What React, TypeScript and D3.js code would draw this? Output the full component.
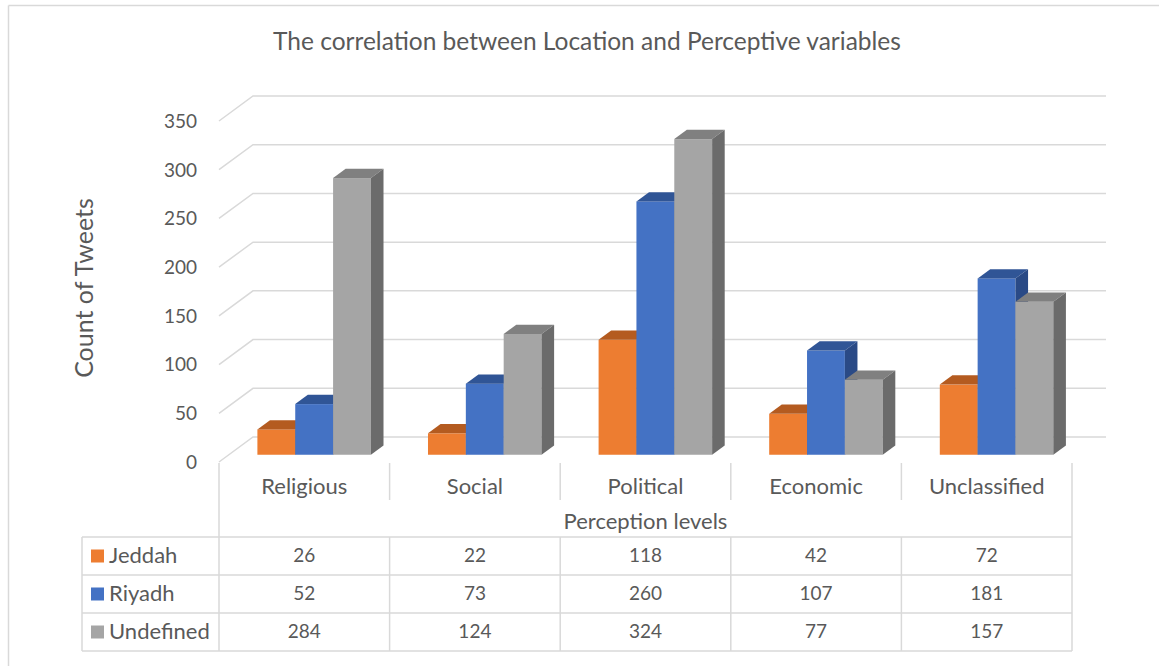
import React from "react";
import * as d3 from "d3";

const categories = ["Religious", "Social", "Political", "Economic", "Unclassified"];
const seriesNames = ["Jeddah", "Riyadh", "Undefined"];
const jeddah = [26, 22, 118, 42, 72];
const riyadh = [52, 73, 260, 107, 181];
const undefinedCounts = [284, 124, 324, 77, 157];
const yTicks = [0, 50, 100, 150, 200, 250, 300, 350];

const seriesValues = [jeddah, riyadh, undefinedCounts];

// front, top, side shades for each series
const palette = [
  { front: "#ED7D31", top: "#B45B20", side: "#A3521D" },
  { front: "#4472C4", top: "#305596", side: "#2A4A86" },
  { front: "#A5A5A5", top: "#808080", side: "#6B6B6B" },
];

const W = 1159;
const H = 666;
const FONT = "Lato, 'Open Sans', sans-serif";
const TXT = "#595959";
const GRID = "#d9d9d9";
const NUM = 19; // digits
const WORD = 22; // words

// oblique 3d: full depth shift
const DX = 34;
const DY = 25;
const D0 = 0.29; // bar front depth
const D1 = 0.66; // bar back depth

export default function App() {
  const x0 = 219;
  const x1 = 1072;
  const y = d3.scaleLinear().domain([0, 350]).range([462, 121]);
  const band = d3
    .scaleBand<string>()
    .domain(categories)
    .range([x0, x1])
    .paddingInner(0.3345)
    .paddingOuter(0.3345 / 2);
  const inner = d3
    .scaleBand<string>()
    .domain(seriesNames)
    .range([0, band.bandwidth()]);
  const bw = inner.bandwidth();
  const step = band.step();
  const colX = (i: number) => x0 + i * step;

  const ddx = (D1 - D0) * DX;
  const ddy = (D1 - D0) * DY;

  const rowY = [537, 575, 613, 651];

  return (
    <svg
      width={W}
      height={H}
      style={{ position: "absolute", left: 0, top: 0, background: "#fff" }}
      fontFamily={FONT}
    >
      {/* outer frame */}
      <line x1={8.5} y1={5.5} x2={W} y2={5.5} stroke={GRID} strokeWidth={1.5} />
      <line x1={8.5} y1={5.5} x2={8.5} y2={H} stroke={GRID} strokeWidth={1.5} />

      <text x={587} y={50} textAnchor="middle" fontSize={24.5} fill={TXT}>
        The correlation between Location and Perceptive variables
      </text>

      {/* gridlines on side and back walls */}
      {yTicks.map((t) => {
        const yf = y(t);
        return (
          <path
            key={`g-${t}`}
            d={`M${x0},${yf}L${x0 + DX},${yf - DY}L${x1 + DX},${yf - DY}`}
            fill="none"
            stroke={GRID}
            strokeWidth={1.5}
          />
        );
      })}

      {yTicks.map((t) => (
        <text
          key={`t-${t}`}
          x={197}
          y={y(t) + 2}
          textAnchor="end"
          dominantBaseline="middle"
          fontSize={NUM}
          fill={TXT}
        >
          {t}
        </text>
      ))}

      <text
        transform={`translate(93,288) rotate(-90)`}
        textAnchor="middle"
        fontSize={25}
        fill={TXT}
      >
        Count of Tweets
      </text>

      {/* bars */}
      {categories.map((c, i) => (
        <g key={`b-${c}`}>
          {seriesNames.map((s, j) => {
            const v = seriesValues[j][i];
            const x = (band(c) as number) + (inner(s) as number) + D0 * DX;
            const yt = y(v) - D0 * DY;
            const yb = y(0) - D0 * DY;
            const col = palette[j];
            return (
              <g key={s}>
                <rect x={x} y={yt} width={bw} height={yb - yt} fill={col.front} />
                <path
                  d={`M${x},${yt}L${x + bw},${yt}L${x + bw + ddx},${yt - ddy}L${x + ddx},${yt - ddy}Z`}
                  fill={col.top}
                />
                <path
                  d={`M${x + bw},${yt}L${x + bw + ddx},${yt - ddy}L${x + bw + ddx},${yb - ddy}L${x + bw},${yb}Z`}
                  fill={col.side}
                />
              </g>
            );
          })}
        </g>
      ))}

      {/* category header row */}
      {categories.map((c, i) => (
        <text
          key={`c-${c}`}
          x={colX(i) + step / 2}
          y={488}
          textAnchor="middle"
          dominantBaseline="middle"
          fontSize={WORD}
          fill={TXT}
        >
          {c}
        </text>
      ))}
      {d3.range(1, categories.length).map((i) => (
        <line
          key={`sep-${i}`}
          x1={colX(i)}
          y1={463}
          x2={colX(i)}
          y2={500}
          stroke={GRID}
          strokeWidth={1.5}
        />
      ))}
      <line x1={x0} y1={463} x2={x0} y2={rowY[3]} stroke={GRID} strokeWidth={1.5} />
      <line x1={x1} y1={463} x2={x1} y2={rowY[3]} stroke={GRID} strokeWidth={1.5} />

      <text
        x={(x0 + x1) / 2}
        y={523}
        textAnchor="middle"
        dominantBaseline="middle"
        fontSize={WORD}
        fill={TXT}
      >
        Perception levels
      </text>

      {/* data table */}
      {rowY.map((ry) => (
        <line key={`r-${ry}`} x1={82} y1={ry} x2={x1} y2={ry} stroke={GRID} strokeWidth={1.5} />
      ))}
      <line x1={82} y1={rowY[0]} x2={82} y2={rowY[3]} stroke={GRID} strokeWidth={1.5} />
      {d3.range(1, categories.length).map((i) => (
        <line
          key={`tc-${i}`}
          x1={colX(i)}
          y1={rowY[0]}
          x2={colX(i)}
          y2={rowY[3]}
          stroke={GRID}
          strokeWidth={1.5}
        />
      ))}
      {seriesNames.map((s, j) => {
        const cy = (rowY[j] + rowY[j + 1]) / 2;
        return (
          <g key={`row-${s}`}>
            <rect x={91} y={cy - 6.5} width={13} height={13} fill={palette[j].front} />
            <text x={109} y={cy + 1} dominantBaseline="middle" fontSize={WORD} fill={TXT}>
              {s}
            </text>
            {categories.map((c, i) => (
              <text
                key={c}
                x={colX(i) + step / 2}
                y={cy + 1}
                textAnchor="middle"
                dominantBaseline="middle"
                fontSize={NUM}
                fill={TXT}
              >
                {seriesValues[j][i]}
              </text>
            ))}
          </g>
        );
      })}
    </svg>
  );
}
